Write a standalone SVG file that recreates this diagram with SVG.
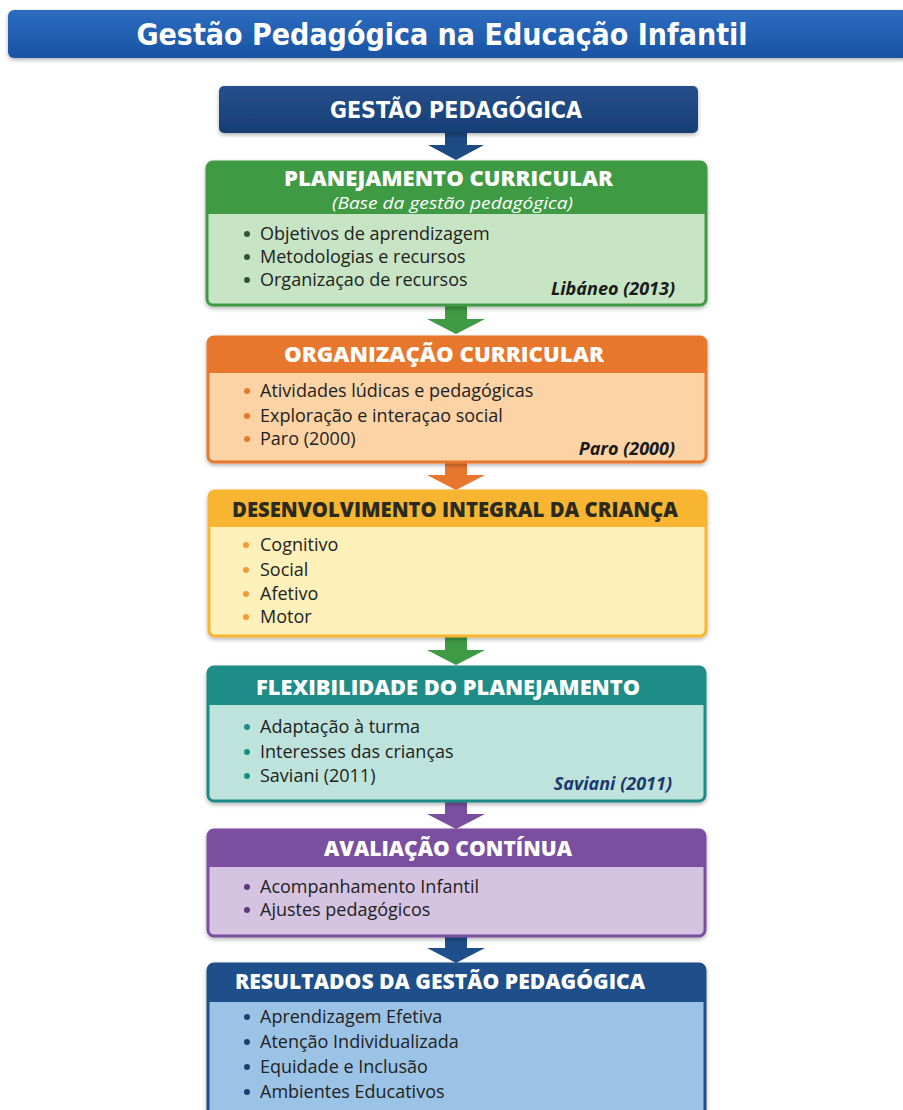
<svg xmlns="http://www.w3.org/2000/svg" width="903" height="1110" viewBox="0 0 903 1110">
<defs>
<linearGradient id="gTitle" x1="0" y1="0" x2="0" y2="1"><stop offset="0" stop-color="#2c6cc0"/><stop offset="1" stop-color="#1a53a3"/></linearGradient>
<linearGradient id="gTop" x1="0" y1="0" x2="0" y2="1"><stop offset="0" stop-color="#24508c"/><stop offset="1" stop-color="#173e74"/></linearGradient>
<filter id="sh" x="-5%" y="-5%" width="110%" height="115%"><feDropShadow dx="0" dy="2" stdDeviation="2" flood-color="#000" flood-opacity="0.3"/></filter>
<style>
.hd{font-family:"Open Sans","DejaVu Sans",sans-serif;font-weight:800;font-size:21px;text-anchor:middle;fill:#fff}
.it{font-family:"Open Sans","Noto Sans",sans-serif;font-size:18px;font-weight:500;fill:#222}
.ref{font-family:"Open Sans","Noto Sans",sans-serif;font-size:18px;font-weight:700;font-style:italic;text-anchor:end;fill:#1a1a1a}
.cond{font-family:"Liberation Sans Narrow","DejaVu Sans Condensed",sans-serif;font-weight:700;fill:#fff;text-anchor:middle}
</style>
</defs>
<rect width="903" height="1110" fill="#fff"/>
<g id="title">
<rect x="8" y="10" width="910" height="48" rx="6" fill="url(#gTitle)" filter="url(#sh)"/>
<text class="cond" x="442" y="45" font-size="30">Gestão Pedagógica na Educação Infantil</text>
</g>
<g id="connectors">
<polygon points="445,133 467,133 467,145 484,145 456,160 428,145 445,145" fill="#1c4a82"/>
<polygon points="445,305 467,305 467,319 485,319 456,334 427,319 445,319" fill="#3f9a44"/>
<polygon points="445,462 467,462 467,475 485,475 456,490 427,475 445,475" fill="#e8772e"/>
<polygon points="445,636 467,636 467,650 485,650 456,665 427,650 445,650" fill="#3f9a44"/>
<polygon points="445,801 467,801 467,814 485,814 456,829 427,814 445,814" fill="#7a4fa0"/>
<polygon points="445,936 467,936 467,948 485,948 456,963 427,948 445,948" fill="#1f4f8a"/>
</g>
<g id="gestao">
<rect x="219" y="86" width="479" height="47" rx="5" fill="url(#gTop)" filter="url(#sh)"/>
<text class="cond" x="456" y="118" font-size="23">GESTÃO PEDAGÓGICA</text>
</g>
<g id="planejamento">
<rect x="207" y="162" width="499" height="143" rx="6" fill="#c7e4c4" stroke="#3f9a44" stroke-width="3" filter="url(#sh)"/>
<path d="M207,214 V168 a6,6 0 0 1 6,-6 H700 a6,6 0 0 1 6,6 V214 Z" fill="#3f9a44"/>
<text class="hd" x="448.5" y="186" textLength="329" lengthAdjust="spacingAndGlyphs">PLANEJAMENTO CURRICULAR</text>
<text x="452.5" y="209" font-family="'Open Sans','Noto Sans',sans-serif" font-size="17" font-style="italic" fill="#fff" text-anchor="middle" textLength="241" lengthAdjust="spacingAndGlyphs">(Base da gestão pedagógica)</text>
<g fill="#2a5a2a"><circle cx="247" cy="234" r="3"/><circle cx="247" cy="257" r="3"/><circle cx="247" cy="280" r="3"/></g>
<text class="it" x="260" y="240">Objetivos de aprendizagem</text>
<text class="it" x="260" y="263">Metodologias e recursos</text>
<text class="it" x="260" y="286">Organizaçao de recursos</text>
<text class="ref" x="675" y="295">Libáneo (2013)</text>
</g>
<g id="organizacao">
<rect x="208" y="337" width="498" height="125" rx="6" fill="#fcd3a5" stroke="#e8772e" stroke-width="3" filter="url(#sh)"/>
<path d="M208,373 V343 a6,6 0 0 1 6,-6 H700 a6,6 0 0 1 6,6 V373 Z" fill="#e8772e"/>
<text class="hd" x="444" y="362" textLength="320" lengthAdjust="spacingAndGlyphs">ORGANIZAÇÃO CURRICULAR</text>
<g fill="#e8772e"><circle cx="247" cy="391" r="3"/><circle cx="247" cy="416" r="3"/><circle cx="247" cy="439" r="3"/></g>
<text class="it" x="260" y="397">Atividades lúdicas e pedagógicas</text>
<text class="it" x="260" y="422">Exploração e interaçao social</text>
<text class="it" x="260" y="445">Paro (2000)</text>
<text class="ref" x="675" y="455">Paro (2000)</text>
</g>
<g id="desenvolvimento">
<rect x="209" y="491" width="497" height="145" rx="6" fill="#fdf0b8" stroke="#f7b531" stroke-width="3" filter="url(#sh)"/>
<path d="M209,527 V497 a6,6 0 0 1 6,-6 H700 a6,6 0 0 1 6,6 V527 Z" fill="#f7b531"/>
<text class="hd" x="455" y="517" textLength="446" lengthAdjust="spacingAndGlyphs" style="fill:#2a2a1e">DESENVOLVIMENTO INTEGRAL DA CRIANÇA</text>
<g fill="#f29a36"><circle cx="246" cy="545" r="3"/><circle cx="246" cy="570" r="3"/><circle cx="246" cy="594" r="3"/><circle cx="246" cy="617" r="3"/></g>
<text class="it" x="260" y="551">Cognitivo</text>
<text class="it" x="260" y="576">Social</text>
<text class="it" x="260" y="600">Afetivo</text>
<text class="it" x="260" y="623">Motor</text>
</g>
<g id="flexibilidade">
<rect x="208" y="667" width="497" height="134" rx="6" fill="#bde3dc" stroke="#1e8c87" stroke-width="3" filter="url(#sh)"/>
<path d="M208,705 V673 a6,6 0 0 1 6,-6 H699 a6,6 0 0 1 6,6 V705 Z" fill="#1e8c87"/>
<text class="hd" x="448" y="695" textLength="384" lengthAdjust="spacingAndGlyphs">FLEXIBILIDADE DO PLANEJAMENTO</text>
<g fill="#1e8c87"><circle cx="247" cy="727" r="3"/><circle cx="247" cy="752" r="3"/><circle cx="247" cy="776" r="3"/></g>
<text class="it" x="260" y="733">Adaptação à turma</text>
<text class="it" x="260" y="758">Interesses das crianças</text>
<text class="it" x="260" y="782">Saviani (2011)</text>
<text class="ref" x="672" y="790" style="fill:#1c3a6e">Saviani (2011)</text>
</g>
<g id="avaliacao">
<rect x="208" y="830" width="497" height="106" rx="6" fill="#d4c3e1" stroke="#7a4fa0" stroke-width="3" filter="url(#sh)"/>
<path d="M208,867 V836 a6,6 0 0 1 6,-6 H699 a6,6 0 0 1 6,6 V867 Z" fill="#7a4fa0"/>
<text class="hd" x="448" y="856" textLength="248" lengthAdjust="spacingAndGlyphs">AVALIAÇÃO CONTÍNUA</text>
<g fill="#5a3a80"><circle cx="247" cy="887" r="3"/><circle cx="247" cy="910" r="3"/></g>
<text class="it" x="260" y="893">Acompanhamento Infantil</text>
<text class="it" x="260" y="916">Ajustes pedagógicos</text>
</g>
<g id="resultados">
<rect x="208" y="964" width="497" height="160" rx="6" fill="#9ac3e5" stroke="#1f4f8a" stroke-width="3" filter="url(#sh)"/>
<path d="M208,1002 V970 a6,6 0 0 1 6,-6 H699 a6,6 0 0 1 6,6 V1002 Z" fill="#1f4f8a"/>
<text class="hd" x="440" y="989" textLength="410" lengthAdjust="spacingAndGlyphs">RESULTADOS DA GESTÃO PEDAGÓGICA</text>
<g fill="#1f3f70"><circle cx="247" cy="1017" r="3"/><circle cx="247" cy="1042" r="3"/><circle cx="247" cy="1067" r="3"/><circle cx="247" cy="1092" r="3"/></g>
<text class="it" x="260" y="1023">Aprendizagem Efetiva</text>
<text class="it" x="260" y="1048">Atenção Individualizada</text>
<text class="it" x="260" y="1073">Equidade e Inclusão</text>
<text class="it" x="260" y="1098">Ambientes Educativos</text>
</g>
</svg>
